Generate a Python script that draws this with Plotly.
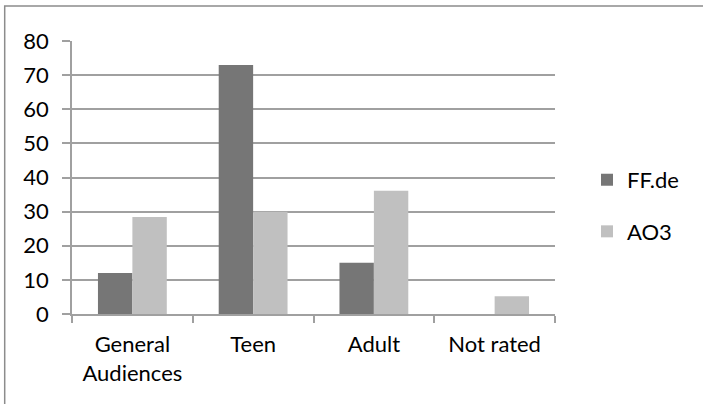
import plotly.graph_objects as go

categories = ["General<br>Audiences", "Teen", "Adult", "Not rated"]
ffde_values = [12, 73, 15, None]
ao3_values = [28.4, 30, 36.1, 5.2]
y_ticks = [0, 10, 20, 30, 40, 50, 60, 70, 80]

FONT = "Lato"
GRID = "#a0a0a0"

fig = go.Figure()
fig.add_trace(go.Bar(name="FF.de", x=categories, y=ffde_values,
                     marker=dict(color="#767676", line=dict(width=0)),
                     legendgroup="a"))
fig.add_trace(go.Bar(name="AO3", x=categories, y=ao3_values,
                     marker=dict(color="#c0c0c0", line=dict(width=0)),
                     legendgroup="b"))

L, R, T, B = 72, 148, 40.7, 89.7
pw = 703 - L - R
ph = 404 - T - B

def px_to_paper_x(px):
    return (px - L) / pw

def px_to_paper_y(py):
    return (404 - B - py) / ph

fig.update_layout(
    width=703, height=404,
    margin=dict(l=L, r=R, t=T, b=B, pad=0),
    paper_bgcolor="white", plot_bgcolor="white",
    font=dict(family=FONT, size=22, color="#000000"),
    barmode="group", bargap=0.43, bargroupgap=0,
    showlegend=True,
    legend=dict(x=px_to_paper_x(587), xanchor="left",
                y=px_to_paper_y(206), yanchor="middle",
                font=dict(family=FONT, size=22, color="#000000"),
                tracegroupgap=20, bgcolor="rgba(0,0,0,0)", borderwidth=0),
    xaxis=dict(type="category", showgrid=False, showline=True, linecolor=GRID,
               linewidth=1.5, ticks="outside", tickson="boundaries", ticklen=7,
               tickcolor=GRID, tickwidth=1.5, ticklabelstandoff=10),
    yaxis=dict(range=[0, 80], tickvals=y_ticks, showgrid=True, gridcolor=GRID,
               gridwidth=1.5, showline=True, linecolor=GRID, linewidth=1.5,
               ticks="outside", ticklen=8, tickcolor=GRID, tickwidth=1.5,
               zeroline=False, ticklabelstandoff=9, fixedrange=True),
    shapes=[dict(type="rect", xref="paper", yref="paper",
                 x0=px_to_paper_x(4.7), x1=px_to_paper_x(720),
                 y0=px_to_paper_y(420), y1=px_to_paper_y(5.7),
                 line=dict(color="#8c8c8c", width=1.5), layer="below")],
)

fig.write_html("out.html",
               config={"displayModeBar": False},
               post_script="document.body.style.margin='0';document.body.style.padding='0';")
